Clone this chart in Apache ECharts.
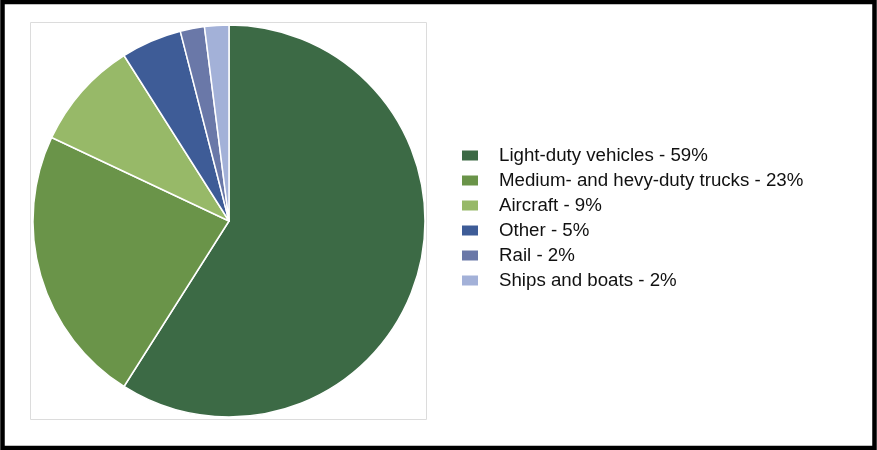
<!DOCTYPE html>
<html>
<head>
<meta charset="utf-8">
<script src="https://cdn.jsdelivr.net/npm/echarts@6/dist/echarts.min.js"></script>
<style>
  html, body { margin: 0; padding: 0; background: #fff; }
  #chart { width: 877px; height: 450px; }
</style>
</head>
<body>
<div id="chart"></div>
<script>
// Transportation energy use by mode (share of total, %)
const categories = [
  'Light-duty vehicles',
  'Medium- and hevy-duty trucks',
  'Aircraft',
  'Other',
  'Rail',
  'Ships and boats'
];
const shares = [59, 23, 9, 5, 2, 2];
const sliceColors = ['#3c6a45', '#6a9449', '#97b968', '#3e5c97', '#6a78a8', '#a3b1d8'];

const chart = echarts.init(document.getElementById('chart'), null, { renderer: 'canvas' });

const pieData = categories.map((name, i) => ({
  name: name,
  value: shares[i],
  itemStyle: { color: sliceColors[i] }
}));

chart.setOption({
  animation: false,
  backgroundColor: '#ffffff',
  graphic: [
    {
      type: 'rect',
      shape: { x: 2.5, y: 2, width: 872, height: 446 },
      style: { fill: 'none', stroke: '#000', lineWidth: 4.5 },
      z: 100
    },
    {
      type: 'rect',
      shape: { x: 30.5, y: 22.5, width: 396, height: 397 },
      style: { fill: 'none', stroke: '#dcdcdc', lineWidth: 1 },
      z: -1
    }
  ],
  legend: {
    orient: 'vertical',
    left: 455,
    top: 141,
    padding: 5,
    itemWidth: 18,
    itemHeight: 12,
    itemGap: 6,
    icon: 'rect',
    selectedMode: false,
    data: categories,
    formatter: function (name) {
      const i = categories.indexOf(name);
      return name + ' - ' + shares[i] + '%';
    },
    textStyle: {
      fontFamily: 'Liberation Sans, Arial, sans-serif',
      fontSize: 18.7,
      color: '#111111',
      padding: [0, 0, 0, 15]
    }
  },
  series: [
    {
      type: 'pie',
      center: [229, 221],
      radius: 196,
      startAngle: 90,
      clockwise: true,
      label: { show: false },
      labelLine: { show: false },
      emphasis: { disabled: true },
      itemStyle: { borderColor: '#ffffff', borderWidth: 1.5 },
      data: pieData
    }
  ]
});
</script>
</body>
</html>
